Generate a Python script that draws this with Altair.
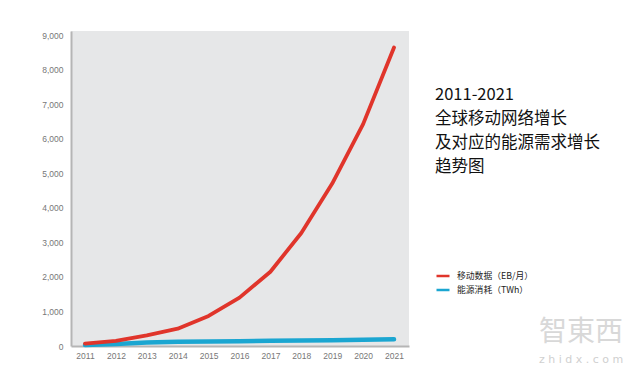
import altair as alt
import pandas as pd

years = list(range(2011, 2022))
mobile_data = [70, 150, 310, 500, 870, 1400, 2150, 3270, 4700, 6420, 8640]
energy = [30, 60, 100, 120, 130, 140, 150, 160, 170, 180, 195]
series_names = ["移动数据（EB/月）", "能源消耗（TWh）"]
series_colors = ["#e0352b", "#1ba6d1"]
title_lines = ["2011-2021", "全球移动网络增长", "及对应的能源需求增长", "趋势图"]

df = pd.DataFrame(
    {"year": years * 2,
     "value": mobile_data + energy,
     "series": [series_names[0]] * len(years) + [series_names[1]] * len(years)}
)

W, H = 338, 315
color = alt.Color(
    "series:N",
    scale=alt.Scale(domain=series_names, range=series_colors),
    legend=alt.Legend(
        title=None, orient="none", legendX=364, legendY=237,
        symbolType="stroke", symbolStrokeWidth=2.5, symbolSize=169,
        labelFontSize=8.8, labelFont="Noto Sans CJK SC", labelColor="#222",
        rowPadding=1, labelOffset=6, padding=0,
    ),
)
x = alt.X("year:Q", scale=alt.Scale(domain=[2010.547, 2021.485], nice=False),
          axis=alt.Axis(values=years, format="d", title=None, grid=False, ticks=False,
                        labelFontSize=8.5, labelColor="#777", labelPadding=5,
                        domainColor="#b5b5b5", domainWidth=2, labelFont="Liberation Sans"))
y = alt.Y("value:Q", scale=alt.Scale(domain=[0, 9116], nice=False),
          axis=alt.Axis(values=list(range(0, 9001, 1000)), format=",d", title=None, grid=False,
                        ticks=False, labelFontSize=8.5, labelColor="#777", labelPadding=8,
                        domainColor="#b5b5b5", domainWidth=2, labelFont="Liberation Sans"))

blue = alt.Chart(df[df.series == series_names[1]]).mark_line(
    strokeWidth=4.5, strokeCap="round", strokeJoin="round").encode(x=x, y=y, color=color)
red = alt.Chart(df[df.series == series_names[0]]).mark_line(
    strokeWidth=3.8, strokeCap="round", strokeJoin="round").encode(x=x, y=y, color=color)

titles = alt.Chart(pd.DataFrame({"t": ["\n".join(title_lines)]})).mark_text(
    align="left", baseline="alphabetic", fontSize=16.5, font="Noto Sans CJK SC", color="#111",
    lineBreak="\n", lineHeight=24,
).encode(text="t:N", x=alt.value(364), y=alt.value(69))

wm1 = alt.Chart(pd.DataFrame({"t": ["智東西"]})).mark_text(
    align="left", baseline="middle", fontSize=28, font="Noto Sans CJK SC", color="#d8d8d8"
).encode(text="t:N", x=alt.value(468), y=alt.value(302))
wm2 = alt.Chart(pd.DataFrame({"t": ["z h i d x . c o m"]})).mark_text(
    align="left", baseline="middle", fontSize=11, font="DejaVu Sans", color="#d0d0d0"
).encode(text="t:N", x=alt.value(468), y=alt.value(329))

chart = alt.layer(blue, red, titles, wm1, wm2).properties(
    width=W, height=H,
    autosize=alt.AutoSizeParams(type="none"),
    padding={"left": 63, "top": 23, "right": 222, "bottom": 25},
).configure_view(fill="#e6e7e8", stroke=None)

chart.save("out.html", embed_options={"renderer": "svg", "actions": False})
